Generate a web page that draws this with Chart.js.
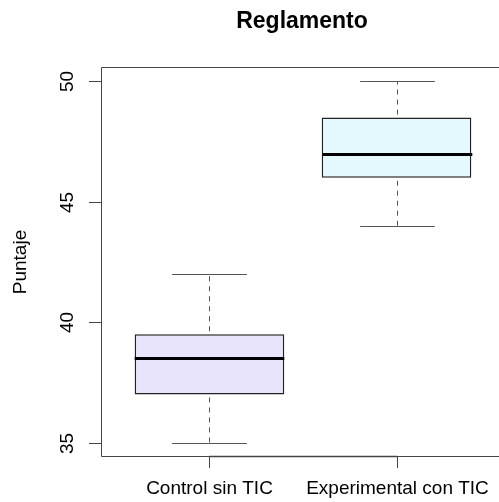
<!DOCTYPE html>
<html>
<head>
<meta charset="utf-8">
<script src="https://cdn.jsdelivr.net/npm/chart.js@4"></script>
<style>
  html, body { margin: 0; padding: 0; background: #fff; overflow: hidden; }
  #chart { display: block; }
</style>
</head>
<body>
<canvas id="chart" width="499" height="502"></canvas>
<script>
// data
const groups = ['Control sin TIC', 'Experimental con TIC'];
const mins = [35, 44];
const q1s = [37, 46];
const medians = [38.5, 47];
const q3s = [39.5, 48.5];
const maxs = [42, 50];
const fills = ['#e8e4fc', '#e4f9fd'];
const yTicks = [35, 40, 45, 50];

const FONT = '"Liberation Sans", Arial, sans-serif';

const boxExtras = {
    id: 'boxExtras',
    afterDatasetsDraw(chart) {
        const ctx = chart.ctx;
        const xs = chart.scales.x, ys = chart.scales.y;
        const bars = chart.getDatasetMeta(0).data;
        ctx.save();
        groups.forEach((g, i) => {
            const cx = Math.round(xs.getPixelForValue(i + 1)) + 0.5;
            const w = bars[i].width;
            const yMin = Math.round(ys.getPixelForValue(mins[i])) + 0.5;
            const yMax = Math.round(ys.getPixelForValue(maxs[i])) + 0.5;
            const yQ1 = ys.getPixelForValue(q1s[i]);
            const yQ3 = ys.getPixelForValue(q3s[i]);
            const yMed = ys.getPixelForValue(medians[i]);

            // dashed whiskers
            ctx.strokeStyle = '#555';
            ctx.lineWidth = 1;
            ctx.setLineDash([5, 5]);
            ctx.beginPath();
            ctx.moveTo(cx, yQ3 - 3);
            ctx.lineTo(cx, yMax);
            ctx.moveTo(cx, yQ1 + 3);
            ctx.lineTo(cx, yMin);
            ctx.stroke();
            ctx.setLineDash([]);

            // caps
            ctx.beginPath();
            ctx.moveTo(cx - w / 4, yMax);
            ctx.lineTo(cx + w / 4, yMax);
            ctx.moveTo(cx - w / 4, yMin);
            ctx.lineTo(cx + w / 4, yMin);
            ctx.stroke();

            // median
            ctx.strokeStyle = '#000';
            ctx.lineWidth = 3;
            ctx.beginPath();
            ctx.moveTo(cx - w / 2, Math.round(yMed) + 0.5);
            ctx.lineTo(cx + w / 2, Math.round(yMed) + 0.5);
            ctx.stroke();
        });
        ctx.restore();
    },
    afterDraw(chart) {
        const ctx = chart.ctx;
        const a = chart.chartArea;
        const xs = chart.scales.x, ys = chart.scales.y;
        ctx.save();
        ctx.strokeStyle = '#444';
        ctx.lineWidth = 1;

        // frame (right edge is off the picture)
        ctx.beginPath();
        ctx.moveTo(chart.width, a.top + 0.5);
        ctx.lineTo(a.left + 0.5, a.top + 0.5);
        ctx.lineTo(a.left + 0.5, a.bottom - 0.5);
        ctx.lineTo(chart.width, a.bottom - 0.5);
        ctx.stroke();

        // y axis ticks and labels
        ctx.fillStyle = '#000';
        ctx.font = '19px ' + FONT;
        ctx.textAlign = 'center';
        ctx.textBaseline = 'middle';
        yTicks.forEach(t => {
            const y = Math.round(ys.getPixelForValue(t)) + 0.5;
            ctx.beginPath();
            ctx.moveTo(a.left - 12, y);
            ctx.lineTo(a.left, y);
            ctx.stroke();
            ctx.save();
            ctx.translate(68, y);
            ctx.rotate(-Math.PI / 2);
            ctx.fillText(String(t), 0, 0);
            ctx.restore();
        });

        // x axis line between ticks, ticks and labels
        const x1 = Math.round(xs.getPixelForValue(1)) + 0.5;
        const x2 = Math.round(xs.getPixelForValue(groups.length)) + 0.5;
        ctx.lineWidth = 1.5;
        ctx.beginPath();
        ctx.moveTo(x1, a.bottom - 0.5);
        ctx.lineTo(x2, a.bottom - 0.5);
        ctx.stroke();
        ctx.lineWidth = 1;
        groups.forEach((g, i) => {
            const x = Math.round(xs.getPixelForValue(i + 1)) + 0.5;
            ctx.beginPath();
            ctx.moveTo(x, a.bottom);
            ctx.lineTo(x, a.bottom + 11);
            ctx.stroke();
            ctx.fillText(g, x, 489);
        });

        // axis title
        ctx.save();
        ctx.translate(21, 262);
        ctx.rotate(-Math.PI / 2);
        ctx.fillText('Puntaje', 0, 0);
        ctx.restore();

        // main title
        ctx.font = 'bold 23px ' + FONT;
        ctx.fillText('Reglamento', 302, 22);
        ctx.restore();
    }
};

new Chart(document.getElementById('chart').getContext('2d'), {
    type: 'bar',
    plugins: [boxExtras],
    data: {
        datasets: [{
            data: groups.map((g, i) => ({ x: i + 1, y: [q1s[i], q3s[i]] })),
            backgroundColor: fills,
            borderColor: '#222',
            borderWidth: 1.5,
            borderSkipped: false,
            categoryPercentage: 1,
            barPercentage: 0.8
        }]
    },
    options: {
        responsive: false,
        animation: false,
        layout: { padding: { left: 101, top: 67, right: 0, bottom: 45 } },
        scales: {
            x: {
                type: 'linear', min: 0.42, max: 2.548, offset: false, display: false,
                afterBuildTicks: s => { s.ticks = groups.map((g, i) => ({ value: i + 1 })); }
            },
            y: { min: 34.4, max: 50.6, display: false }
        },
        plugins: {
            legend: { display: false },
            tooltip: { enabled: false },
            title: { display: false }
        }
    }
});
</script>
</body>
</html>
